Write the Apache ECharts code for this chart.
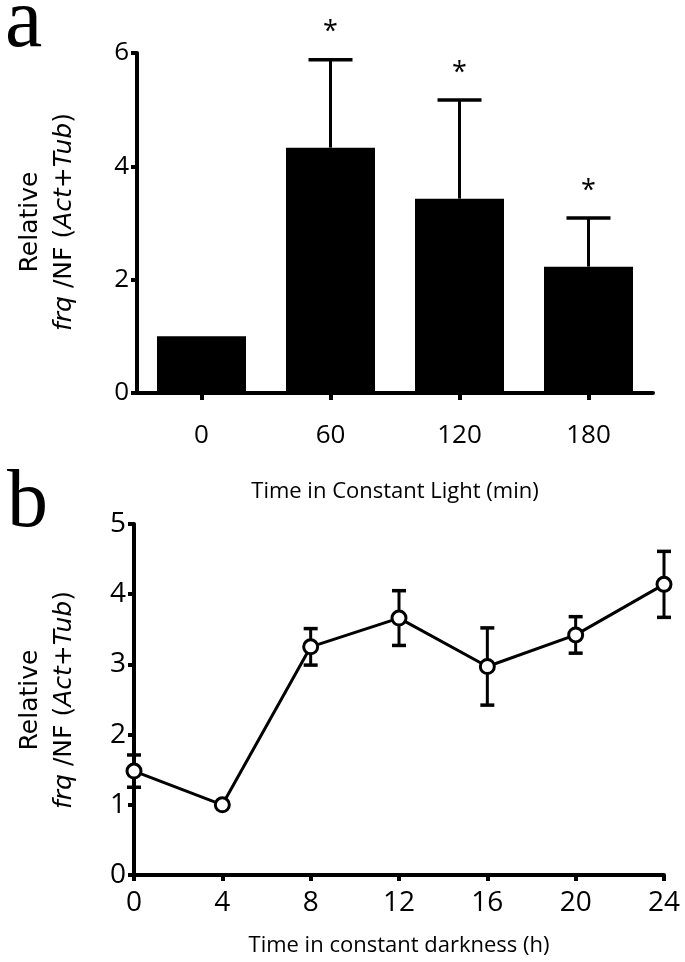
<!DOCTYPE html>
<html>
<head>
<meta charset="utf-8">
<script src="https://cdn.jsdelivr.net/npm/echarts@6/dist/echarts.min.js"></script>
<style>
html,body{margin:0;padding:0;background:#fff;}
#chart{width:685px;height:962px;}
</style>
</head>
<body>
<div id="chart"></div>
<script>
// ---- Panel a data ----
var catsA = ['0', '60', '120', '180'];
var meanA = [1.0, 4.33, 3.43, 2.23];
var semA = [0, 1.55, 1.74, 0.86];
var sigA = [false, true, true, true];
var yTicksA = [0, 2, 4, 6];

// ---- Panel b data ----
var timeB = [0, 4, 8, 12, 16, 20, 24];
var meanB = [1.48, 1.0, 3.25, 3.66, 2.97, 3.42, 4.14];
var semB = [0.23, 0, 0.26, 0.39, 0.55, 0.26, 0.47];
var xTicksB = [0, 4, 8, 12, 16, 20, 24];
var yTicksB = [0, 1, 2, 3, 4, 5];

var FONT = 'Open Sans';
var chart = echarts.init(document.getElementById('chart'), null, {renderer: 'canvas'});

var axisCommon = {
  axisLine: {show: true, lineStyle: {color: '#000', width: 4}},
  axisTick: {show: true, inside: false, length: 6, lineStyle: {color: '#000', width: 4}},
  splitLine: {show: false}
};

function errA(params, api) {
  var x = api.value(0), m = api.value(1), e = api.value(2), s = api.value(3);
  var children = [];
  var p1 = api.coord([x, m]);
  var p2 = api.coord([x, m + e]);
  if (e > 0) {
    children.push({type: 'line', shape: {x1: p1[0], y1: p1[1], x2: p2[0], y2: p2[1]},
      style: {stroke: '#000', lineWidth: 3}});
    children.push({type: 'line', shape: {x1: p2[0] - 22, y1: p2[1], x2: p2[0] + 22, y2: p2[1]},
      style: {stroke: '#000', lineWidth: 3.5}});
  }
  if (s) {
    children.push({type: 'text', style: {text: '*', x: p2[0], y: p2[1] - 27,
      align: 'center', verticalAlign: 'middle', fontSize: 27, fontFamily: FONT, fill: '#000'}});
  }
  return {type: 'group', children: children};
}

function errB(params, api) {
  var x = api.value(0), m = api.value(1), e = api.value(2);
  if (!(e > 0)) return {type: 'group', children: []};
  var lo = api.coord([x, m - e]);
  var hi = api.coord([x, m + e]);
  return {type: 'group', children: [
    {type: 'line', shape: {x1: lo[0], y1: lo[1], x2: hi[0], y2: hi[1]}, style: {stroke: '#000', lineWidth: 3}},
    {type: 'line', shape: {x1: hi[0] - 7, y1: hi[1], x2: hi[0] + 7, y2: hi[1]}, style: {stroke: '#000', lineWidth: 3.5}},
    {type: 'line', shape: {x1: lo[0] - 7, y1: lo[1], x2: lo[0] + 7, y2: lo[1]}, style: {stroke: '#000', lineWidth: 3.5}}
  ]};
}

var option = {
  animation: false,
  backgroundColor: '#fff',
  grid: [
    {left: 137, right: 32, top: 53, bottom: 569},
    {left: 134, right: 21, top: 524, bottom: 87}
  ],
  xAxis: [
    Object.assign({}, axisCommon, {
      gridIndex: 0, type: 'category', data: catsA, boundaryGap: true,
      axisTick: {show: true, inside: false, length: 7, alignWithLabel: true, lineStyle: {color: '#000', width: 4}},
      axisLabel: {color: '#000', fontSize: 26, fontFamily: FONT, margin: 30},
      name: 'Time in Constant Light (min)', nameLocation: 'middle', nameGap: 88,
      nameTextStyle: {color: '#000', fontSize: 22, fontFamily: FONT}
    }),
    Object.assign({}, axisCommon, {
      gridIndex: 1, type: 'value', min: 0, max: 24, interval: 4,
      axisLabel: {color: '#000', fontSize: 28, fontFamily: FONT, margin: 14},
      name: 'Time in constant darkness (h)', nameLocation: 'middle', nameGap: 60,
      nameTextStyle: {color: '#000', fontSize: 22, fontFamily: FONT}
    })
  ],
  yAxis: [
    Object.assign({}, axisCommon, {
      gridIndex: 0, type: 'value', min: yTicksA[0], max: yTicksA[yTicksA.length - 1], interval: 2,
      axisLabel: {color: '#000', fontSize: 26, fontFamily: FONT, margin: 8}
    }),
    Object.assign({}, axisCommon, {
      gridIndex: 1, type: 'value', min: yTicksB[0], max: yTicksB[yTicksB.length - 1], interval: 1,
      axisLabel: {color: '#000', fontSize: 28, fontFamily: FONT, margin: 8}
    })
  ],
  series: [
    {
      type: 'bar', xAxisIndex: 0, yAxisIndex: 0, data: meanA, barWidth: 89,
      itemStyle: {color: '#000'}, z: 2
    },
    {
      type: 'custom', xAxisIndex: 0, yAxisIndex: 0, renderItem: errA, clip: false, z: 3,
      data: catsA.map(function (c, i) { return [i, meanA[i], semA[i], sigA[i] ? 1 : 0]; })
    },
    {
      type: 'custom', xAxisIndex: 1, yAxisIndex: 1, renderItem: errB, clip: false, z: 2,
      data: timeB.map(function (t, i) { return [t, meanB[i], semB[i]]; })
    },
    {
      type: 'line', xAxisIndex: 1, yAxisIndex: 1, clip: false, z: 4,
      data: timeB.map(function (t, i) { return [t, meanB[i]]; }),
      lineStyle: {color: '#000', width: 3},
      symbol: 'circle', symbolSize: 14, showSymbol: true,
      itemStyle: {color: '#fff', borderColor: '#000', borderWidth: 3}
    }
  ],
  graphic: [
    {type: 'text', left: 5, top: -18, style: {text: 'a', fontSize: 84, fontFamily: 'Liberation Serif', fill: '#000'}},
    {type: 'text', left: 7, top: 463, style: {text: 'b', fontSize: 82, fontFamily: 'Liberation Serif', fill: '#000'}},
    {type: 'text', x: 47, y: 222, rotation: Math.PI / 2,
      style: {text: 'Relative\n{i|frq} /NF ({i|Act+Tub})', align: 'center', verticalAlign: 'middle',
        fontSize: 25, fontFamily: 'DejaVu Sans', fill: '#000', lineHeight: 34,
        rich: {i: {fontStyle: 'italic', fontSize: 25, fontFamily: 'DejaVu Sans', fill: '#000', lineHeight: 34}}}},
    {type: 'text', x: 47, y: 700, rotation: Math.PI / 2,
      style: {text: 'Relative\n{i|frq} /NF ({i|Act+Tub})', align: 'center', verticalAlign: 'middle',
        fontSize: 25, fontFamily: 'DejaVu Sans', fill: '#000', lineHeight: 34,
        rich: {i: {fontStyle: 'italic', fontSize: 25, fontFamily: 'DejaVu Sans', fill: '#000', lineHeight: 34}}}}
  ]
};
chart.setOption(option);
</script>
</body>
</html>
